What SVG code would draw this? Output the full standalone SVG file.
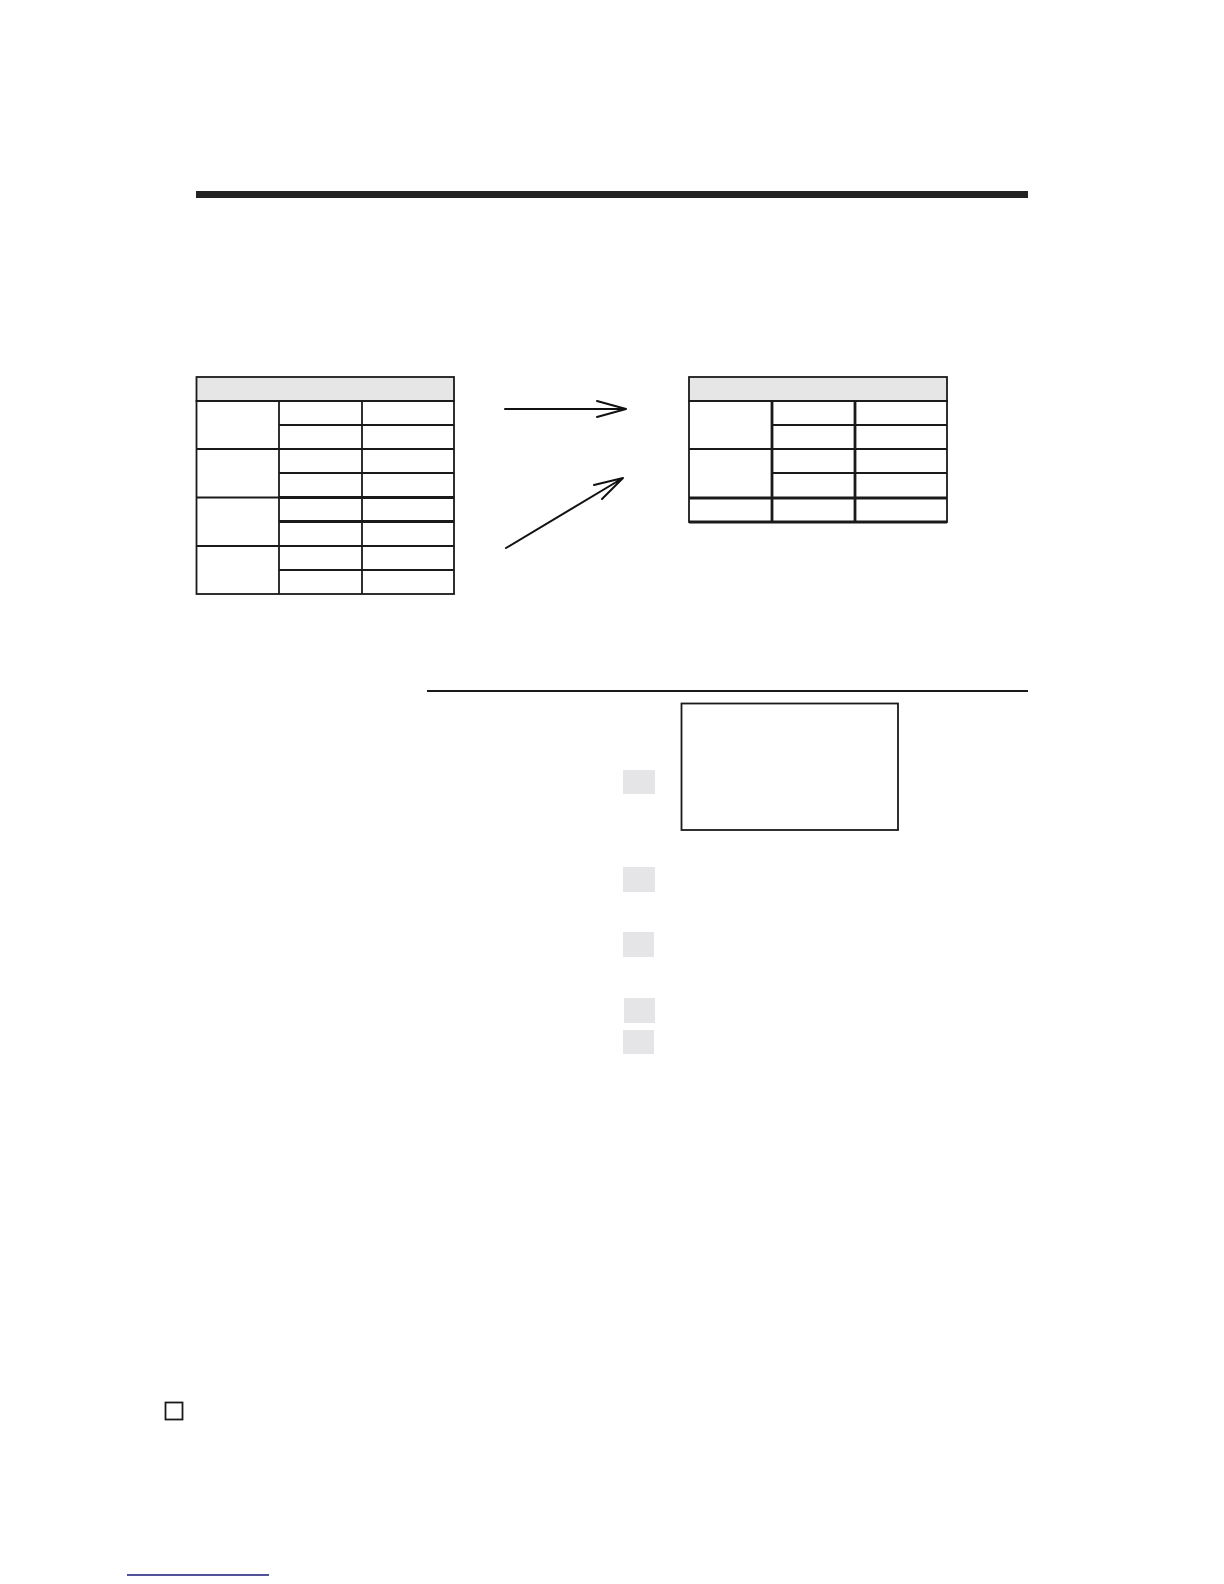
<svg xmlns="http://www.w3.org/2000/svg" width="1224" height="1584" viewBox="0 0 1224 1584">
<style>
.ln{stroke:#1a1a1a;stroke-width:1.8;fill:none}
.thk{stroke:#1a1a1a;stroke-width:2.8;fill:none}
.hdr{fill:#e6e6e6;stroke:#1a1a1a;stroke-width:1.8}
.key{fill:#e5e5e7}
.arr{stroke:#111;stroke-width:2;fill:none;stroke-linecap:round;stroke-linejoin:round}
</style>
<rect id="title-bar" x="196" y="191" width="832" height="7" fill="#222"/>
<g id="table-left">
<rect class="hdr" x="196.5" y="377" width="257.5" height="24"/>
<rect class="ln" x="196.5" y="401" width="257.5" height="193"/>
<line class="ln" x1="279" y1="401" x2="279" y2="594"/>
<line class="ln" x1="362" y1="401" x2="362" y2="594"/>
<line class="ln" x1="279" y1="425" x2="454" y2="425"/>
<line class="ln" x1="196.5" y1="449" x2="454" y2="449"/>
<line class="ln" x1="279" y1="473" x2="454" y2="473"/>
<line class="ln" x1="196.5" y1="497.5" x2="279" y2="497.5"/>
<line class="thk" x1="279" y1="497.5" x2="454" y2="497.5"/>
<line class="thk" x1="279" y1="521.5" x2="454" y2="521.5"/>
<line class="ln" x1="196.5" y1="546" x2="454" y2="546"/>
<line class="ln" x1="279" y1="570" x2="454" y2="570"/>
</g>
<g id="connectors">
<path class="arr" d="M505 409 H626 M597 401 L626 409 L597 417"/>
<path class="arr" d="M506 548 L623 478 M594 485 L623 478 L602 499"/>
</g>
<g id="table-right">
<rect class="hdr" x="689" y="377" width="258" height="24"/>
<rect class="ln" x="689" y="401" width="258" height="121"/>
<line class="thk" x1="772" y1="401" x2="772" y2="522"/>
<line class="thk" x1="855" y1="401" x2="855" y2="522"/>
<line class="ln" x1="772" y1="425" x2="947" y2="425"/>
<line class="ln" x1="689" y1="449" x2="947" y2="449"/>
<line class="ln" x1="772" y1="473" x2="947" y2="473"/>
<line class="thk" x1="689" y1="498" x2="947" y2="498"/>
<line class="thk" x1="689" y1="522" x2="947" y2="522"/>
</g>
<line id="rule" class="ln" x1="427" y1="691" x2="1028" y2="691"/>
<g id="display-box">
<rect class="ln" x="681.5" y="703.5" width="216.5" height="126.5"/>
</g>
<g id="keys">
<rect id="key1" class="key" x="623" y="770" width="32" height="24"/>
<rect id="key2" class="key" x="623" y="867" width="32" height="25"/>
<rect id="key3" class="key" x="623" y="932" width="31" height="25"/>
<rect id="key4" class="key" x="624" y="998" width="31" height="25"/>
<rect id="key5" class="key" x="623" y="1030" width="31" height="24"/>
</g>
<rect id="page-box" class="ln" x="165.5" y="1402.5" width="17" height="17"/>
<line id="link-underline" x1="127" y1="1575" x2="269" y2="1575" stroke="#1a1a7a" stroke-width="1.5"/>
</svg>
